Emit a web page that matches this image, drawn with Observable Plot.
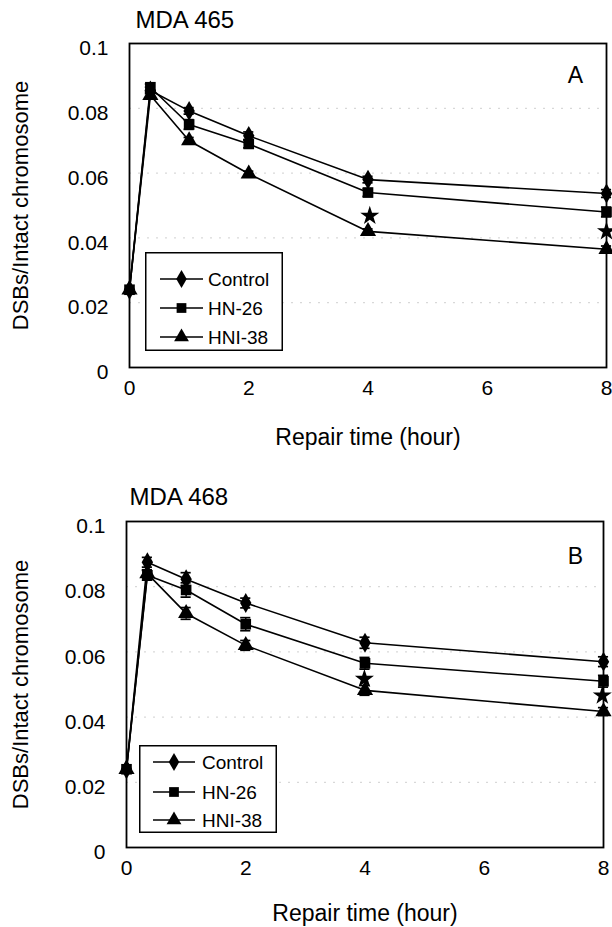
<!DOCTYPE html>
<html><head><meta charset="utf-8">
<script src="https://cdn.jsdelivr.net/npm/d3@7"></script>
<script src="https://cdn.jsdelivr.net/npm/@observablehq/plot@0.6"></script>
<style>
body{margin:0;background:#fff;}
#wrap{position:relative;width:612px;height:927px;overflow:hidden;background:#fff;}
.panel{position:absolute;left:0;}
.legend{position:absolute;}
</style></head><body><div id="wrap"></div>
<script>
// ---------- data ----------
const times = [0, 0.35, 1, 2, 4, 8];
const seriesNames = ["Control", "HN-26", "HNI-38"];
const seriesSymbols = ["diamond", "square", "triangle"];
const yTicks = [0, 0.02, 0.04, 0.06, 0.08, 0.1];
const xTicks = [0, 2, 4, 6, 8];
const gridTicks = [0.02, 0.04, 0.06, 0.08];

// Panel A: MDA 465
const aControl = [0.024, 0.0855, 0.0792, 0.0715, 0.0580, 0.0537];
const aHN26    = [0.024, 0.0865, 0.0750, 0.0690, 0.0540, 0.0480];
const aHNI38   = [0.024, 0.0840, 0.0700, 0.0598, 0.0420, 0.0365];
const aControlErr = [0, 0.0010, 0.0010, 0.0012, 0.0010, 0.0012];
const aHN26Err    = [0, 0.0010, 0.0015, 0.0012, 0.0012, 0.0015];
const aHNI38Err   = [0, 0.0010, 0.0010, 0.0008, 0.0008, 0.0010];
const aStarTimes  = [4.03, 8];
const aStarValues = [0.0468, 0.0420];

// Panel B: MDA 468
const bControl = [0.024, 0.0875, 0.0823, 0.0750, 0.0628, 0.0570];
const bHN26    = [0.024, 0.0835, 0.0790, 0.0685, 0.0565, 0.0510];
const bHNI38   = [0.024, 0.0840, 0.0718, 0.0620, 0.0482, 0.0417];
const bControlErr = [0, 0.0015, 0.0020, 0.0015, 0.0017, 0.0015];
const bHN26Err    = [0, 0.0015, 0.0022, 0.0020, 0.0018, 0.0018];
const bHNI38Err   = [0, 0.0012, 0.0018, 0.0015, 0.0015, 0.0012];
const bStarTimes  = [3.99, 7.98];
const bStarValues = [0.0517, 0.0466];

// ---------- build ----------
const FONT = '"Liberation Sans", Arial, Helvetica, sans-serif';

function rows(values, errs) {
  const out = [];
  seriesNames.forEach((s, i) => {
    times.forEach((t, j) => out.push({series: s, t, v: values[i][j], e: errs[i][j]}));
  });
  return out;
}

function makePanel(cfg) {
  const data = rows(cfg.values, cfg.errs);
  const drawOrder = ["Control", "HNI-38", "HN-26"];
  const dotData = drawOrder.flatMap(s => data.filter(d => d.series === s));
  const errData = data.filter(d => d.e > 0);
  const stars = cfg.starTimes.map((t, i) => ({t, v: cfg.starValues[i]}));
  const capW = 0.085;
  const chart = Plot.plot({
    width: 612, height: cfg.height,
    marginTop: cfg.mt, marginBottom: cfg.mb, marginLeft: cfg.ml, marginRight: cfg.mr,
    style: {fontFamily: FONT, fontSize: "21px", background: "white", color: "black", overflow: "visible"},
    x: {domain: [0, 8]},
    y: {domain: [0, 0.1]},
    symbol: {domain: seriesNames, range: seriesSymbols},
    marks: [
      Plot.ruleY(gridTicks, {stroke: "#cfcfcf", strokeDasharray: "2,7", strokeWidth: 1}),
      Plot.axisY({ticks: yTicks, tickSize: 0, tickPadding: 21, dy: 5, label: null, fontSize: 21,
                  tickFormat: d => String(d)}),
      Plot.axisX({ticks: xTicks, tickSize: 0, tickPadding: 13, label: null, fontSize: 21}),
      Plot.line(data, {x: "t", y: "v", z: "series", stroke: "black", strokeWidth: 1.6}),
      Plot.ruleX(errData, {x: "t", y1: d => d.v - d.e, y2: d => d.v + d.e, stroke: "black", strokeWidth: 1.5}),
      Plot.ruleY(errData, {y: d => d.v + d.e, x1: d => d.t - capW, x2: d => d.t + capW, stroke: "black", strokeWidth: 1.7}),
      Plot.ruleY(errData, {y: d => d.v - d.e, x1: d => d.t - capW, x2: d => d.t + capW, stroke: "black", strokeWidth: 1.7}),
      Plot.dot(dotData, {x: "t", y: "v", symbol: "series", fill: "black", stroke: "none", r: 6}),
      Plot.dot(stars, {x: "t", y: "v", symbol: "star", fill: "black", r: 6}),
      Plot.frame({stroke: "black", strokeWidth: 1.8}),
      Plot.text([cfg.title], {frameAnchor: "top-left", textAnchor: "start", lineAnchor: "middle",
                 dx: cfg.titleDx, dy: cfg.titleDy, fontSize: 24}),
      Plot.text([cfg.letter], {frameAnchor: "top-right", textAnchor: "middle", lineAnchor: "middle",
                 dx: cfg.letterDx, dy: cfg.letterDy, fontSize: 23}),
      Plot.text(["Repair time (hour)"], {frameAnchor: "bottom", lineAnchor: "middle", dy: cfg.xLabelDy, fontSize: 23}),
      Plot.text(["DSBs/Intact chromosome"], {frameAnchor: "left", textAnchor: "middle", rotate: -90,
                 dx: -(cfg.ml - 20), fontSize: 22})
    ]
  });
  chart.classList.add("panel");
  chart.style.top = cfg.top + "px";
  return chart;
}

function makeLegend(cfg) {
  const w = cfg.w, h = cfg.h;
  const svg = d3.create("svg").attr("class", "legend").attr("width", w).attr("height", h)
    .style("left", cfg.left + "px").style("top", cfg.top + "px");
  svg.append("rect").attr("x", 0.75).attr("y", 0.75).attr("width", w - 1.5).attr("height", h - 1.5)
    .attr("fill", "white").attr("stroke", "black").attr("stroke-width", 1.5);
  const types = {diamond: d3.symbolDiamond, square: d3.symbolSquare, triangle: d3.symbolTriangle};
  seriesNames.forEach((s, i) => {
    const cy = cfg.rows[i];
    svg.append("line").attr("x1", cfg.lx1).attr("x2", cfg.lx2).attr("y1", cy).attr("y2", cy)
      .attr("stroke", "black").attr("stroke-width", 1.5);
    svg.append("path").attr("d", d3.symbol(types[seriesSymbols[i]], Math.PI * 5.5 * 5.5)())
      .attr("transform", `translate(${(cfg.lx1 + cfg.lx2) / 2},${cy})`).attr("fill", "black");
    svg.append("text").attr("x", cfg.tx).attr("y", cy).attr("dy", "0.35em")
      .style("font-family", FONT).style("font-size", "19px").text(s);
  });
  return svg.node();
}

const wrap = document.getElementById("wrap");
wrap.appendChild(makePanel({
  title: "MDA 465", letter: "A",
  values: [aControl, aHN26, aHNI38], errs: [aControlErr, aHN26Err, aHNI38Err],
  starTimes: aStarTimes, starValues: aStarValues,
  top: 0, height: 460, mt: 43, mb: 93, ml: 129, mr: 6,
  titleDx: 6, titleDy: -23, letterDx: -31, letterDy: 32, xLabelDy: 70
}));
wrap.appendChild(makePanel({
  title: "MDA 468", letter: "B",
  values: [bControl, bHN26, bHNI38], errs: [bControlErr, bHN26Err, bHNI38Err],
  starTimes: bStarTimes, starValues: bStarValues,
  top: 460, height: 467, mt: 61, mb: 80, ml: 126, mr: 9,
  titleDx: 3, titleDy: -24, letterDx: -28, letterDy: 35, xLabelDy: 66
}));
wrap.appendChild(makeLegend({left: 145, top: 252, w: 138, h: 99, rows: [27, 56, 85], lx1: 15, lx2: 58, tx: 63}));
wrap.appendChild(makeLegend({left: 139, top: 745, w: 138, h: 88, rows: [17, 47, 75], lx1: 14, lx2: 56, tx: 63}));
</script></body></html>
